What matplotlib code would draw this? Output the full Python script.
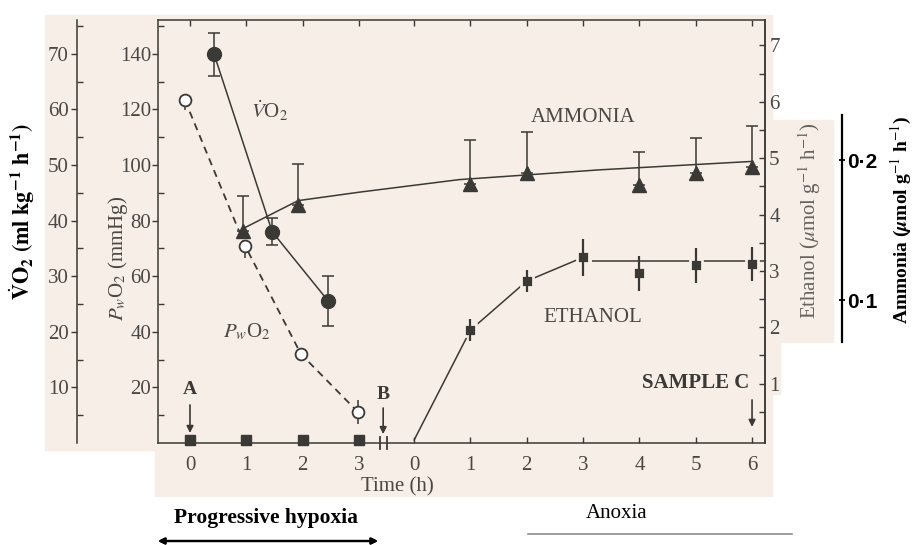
import numpy as np
import matplotlib.pyplot as plt
from matplotlib.patches import Rectangle
from matplotlib.lines import Line2D

plt.rcParams['font.family'] = ['Liberation Serif', 'DejaVu Serif']
plt.rcParams['mathtext.fontset'] = 'stix'

W, H = 915, 545
BG = '#f6eee7'
INK = '#3b3936'
TXT = '#4a4744'

ANOX_OFFSET = 3.98  # anoxia time 0 on the shared x scale

# x ticks: progressive hypoxia (h) then anoxia (h)
hyp_ticks = [0, 1, 2, 3]
anox_ticks = [0, 1, 2, 3, 4, 5, 6]

# VO2 (ml kg-1 h-1), filled circles
vo2_t = [0.43, 1.46, 2.45]
vo2 = [69.9, 38.0, 25.6]
vo2_err = [3.9, 2.4, 4.5]

# PwO2 (mmHg), open circles
pwo2_t = [-0.09, 0.98, 1.97, 2.98]
pwo2 = [123.4, 70.9, 32.0, 11.2]
pwo2_err_lo = [3.6, 4.3, 0.0, 4.3]
pwo2_err_hi = [0.0, 0.0, 0.0, 4.3]

# ammonia (umol g-1 h-1), triangles
amm_hyp_t = [0.94, 1.92]
amm_hyp = [0.149, 0.168]
amm_hyp_err = [0.025, 0.029]
amm_anox_t = [1, 2, 4, 5, 6]
amm_anox = [0.183, 0.191, 0.182, 0.191, 0.195]
amm_anox_err = [0.031, 0.029, 0.024, 0.025, 0.029]
# the curve drawn through the ammonia points
amm_fit_hyp_t = [0.94, 1.92, 3.0]
amm_fit_hyp = [0.151, 0.171, 0.177]
amm_fit_anox_t = [0.8, 3.3, 6.0]
amm_fit_anox = [0.186, 0.193, 0.199]

# ethanol (umol g-1 h-1), squares
eth_hyp_t = [0, 1, 2, 3]
eth_hyp = [0, 0, 0, 0]
eth_anox_t = [1, 2, 3, 4, 5, 6]
eth_anox = [1.95, 2.82, 3.24, 2.96, 3.10, 3.12]
eth_err = [0.2, 0.2, 0.33, 0.31, 0.31, 0.30]
eth_line_t = [0, 1, 2, 3]
eth_line = [0, 1.95, 2.82, 3.24]
eth_plateau = 3.17


def fx(px):
    return px / W


def fy(py):
    return 1 - py / H


def anox(t):
    return np.asarray(t, dtype=float) + ANOX_OFFSET


fig = plt.figure(figsize=(W / 100, H / 100), dpi=100)
fig.patch.set_facecolor('white')

# beige paper behind the scanned panels
for x0, y0, x1, y1 in [(155, 15, 772, 496), (45, 15, 158, 450),
                       (765, 120, 833, 342), (765, 342, 780, 394)]:
    fig.patches.append(Rectangle((fx(x0), fy(y1)), (x1 - x0) / W, (y1 - y0) / H,
                                 transform=fig.transFigure, color=BG, zorder=-5))

ax = fig.add_axes([fx(158), fy(443), (765 - 158) / W, (443 - 20) / H])
ax.set_facecolor('none')
ax.set_xlim(-0.568, 10.21)
ax.set_ylim(0, 152.2)
for s in ax.spines.values():
    s.set_color(INK)
    s.set_linewidth(1.1)

ax_v = ax.twinx()
ax_e = ax.twinx()
ax_a = ax.twinx()

# x axis
xt = list(hyp_ticks) + list(anox(anox_ticks))
xl = [str(t) for t in hyp_ticks] + [str(t) for t in anox_ticks]
ax.set_xticks(xt)
ax.set_xticklabels(xl)
ax.tick_params(axis='x', which='major', direction='in', top=True, bottom=True,
               length=4, width=1, color=INK, labelsize=15, labelcolor=TXT, pad=9)
ax.set_xlabel('Time (h)', fontsize=15, color=TXT, labelpad=0)
ax.xaxis.set_label_coords((397 - 158) / 607, -(477 - 443) / 423)

# PwO2 axis (left spine of the main panel)
ax.set_yticks(np.arange(20, 141, 20))
ax.set_yticks(np.arange(10, 151, 20), minor=True)
ax.yaxis.tick_left()
ax.tick_params(axis='y', which='major', direction='out', length=4, width=1,
               color=INK, labelsize=15, labelcolor=TXT, pad=1)
ax.tick_params(axis='y', which='minor', direction='in', length=4, width=1, color=INK)

# VO2 axis, detached to the left
ax_v.set_ylim(0, 76.1)
for k in ('right', 'top', 'bottom'):
    ax_v.spines[k].set_visible(False)
ax_v.spines['left'].set_position(('axes', (77 - 158) / 607))
ax_v.spines['left'].set_color(INK)
ax_v.spines['left'].set_linewidth(1.1)
ax_v.yaxis.tick_left()
ax_v.set_yticks(np.arange(10, 71, 10))
ax_v.set_yticks(np.arange(5, 76, 10), minor=True)
ax_v.tick_params(axis='y', which='major', direction='out', length=4, width=1,
                 color=INK, labelsize=15, labelcolor=TXT, pad=2)
ax_v.tick_params(axis='y', which='minor', direction='in', length=4, width=1, color=INK)

# ethanol axis, right spine
ax_e.set_ylim(-0.053, 7.45)
for k in ('left', 'top', 'bottom'):
    ax_e.spines[k].set_visible(False)
ax_e.spines['right'].set_color(INK)
ax_e.spines['right'].set_linewidth(1.1)
ax_e.set_yticks(np.arange(1, 8))
ax_e.set_yticks(np.arange(0.5, 7.0, 1.0), minor=True)
ax_e.tick_params(axis='y', which='both', direction='in', length=4, width=1,
                 color=INK, labelsize=15, labelcolor=TXT, pad=3)

# ammonia axis, pasted on further right
ax_a.set_ylim(-0.0021, 0.3)
for k in ('left', 'top', 'bottom'):
    ax_a.spines[k].set_visible(False)
ax_a.spines['right'].set_position(('axes', (842 - 158) / 607))
ax_a.spines['right'].set_bounds(0.07, 0.232)
ax_a.spines['right'].set_color('black')
ax_a.spines['right'].set_linewidth(1.6)
ax_a.set_yticks([0.1, 0.2])
ax_a.set_yticklabels(['0\u00b71', '0\u00b72'], family='Liberation Sans',
                     fontweight='bold')
ax_a.tick_params(axis='y', direction='inout', length=5, width=1.3, color='black',
                 labelsize=15, labelcolor='black', pad=1)

# PwO2: dashed line with open circles
ax.errorbar(pwo2_t, pwo2, yerr=[pwo2_err_lo, pwo2_err_hi], fmt='none',
            ecolor=INK, elinewidth=1.1, zorder=3)
ax.plot(pwo2_t, pwo2, color=INK, lw=1.3, ls=(0, (4, 3)), zorder=2)
ax.plot(pwo2_t, pwo2, 'o', ms=8.5, mfc='white', mec=INK, mew=1.3, zorder=4)

# VO2: filled circles
ax_v.plot(vo2_t, vo2, color=INK, lw=1.1, zorder=2)
ax_v.errorbar(vo2_t, vo2, yerr=vo2_err, fmt='o', ms=10, mfc=INK, mec=INK,
              ecolor=INK, elinewidth=1.1, capsize=4.5, capthick=1.1, zorder=4)

# ammonia: triangles with upper bars
amm_t = list(amm_hyp_t) + list(anox(amm_anox_t))
amm_v = list(amm_hyp) + list(amm_anox)
amm_e = list(amm_hyp_err) + list(amm_anox_err)
fit_t = list(amm_fit_hyp_t) + list(anox(amm_fit_anox_t))
fit_v = list(amm_fit_hyp) + list(amm_fit_anox)
ax_a.plot(fit_t, fit_v, color=INK, lw=1.1, zorder=2)
ax_a.errorbar(amm_t, amm_v, yerr=[np.zeros(len(amm_e)), amm_e], fmt='^', ms=10,
              mfc=INK, mec=INK, ecolor=INK, elinewidth=1.1, capsize=4,
              capthick=1.1, zorder=4)

# ethanol: squares, line broken at each marker
ax_e.plot(anox(eth_line_t), eth_line, color=INK, lw=1.1, zorder=2)
ax_e.hlines(eth_plateau, anox(3) + 0.15, 10.21, color=INK, lw=1.1, zorder=2)
ax_e.errorbar(anox(eth_anox_t), eth_anox, yerr=eth_err, fmt='none', ecolor=INK,
              elinewidth=1.6, zorder=5)
ax_e.plot(anox(eth_anox_t), eth_anox, 's', ms=9, mfc=INK, mec=BG, mew=2.0, zorder=4)
ax_e.plot(eth_hyp_t, eth_hyp, 's', ms=6.5, mfc=INK, mec=INK, zorder=4, clip_on=False)

# break on the time axis
for xb in (3.375, 3.50):
    ax.plot([xb, xb], [-2.2, 2.2], color=INK, lw=1.3, clip_on=False, zorder=6)

# labels inside the panel
ax.text(1.42, 119.5, r'$\dot{V}$O$_2$', fontsize=15, color=TXT, ha='center', va='center')
ax.text(6.98, 117, 'AMMONIA', fontsize=15, color=TXT, ha='center', va='center')
ax.text(7.16, 45, 'ETHANOL', fontsize=15, color=TXT, ha='center', va='center')
ax.text(1.01, 40, r'$P_w$O$_2$', fontsize=15, color=TXT, ha='center', va='center')

arrow = dict(arrowstyle='-|>', color=INK, lw=1.2, mutation_scale=10, shrinkA=0, shrinkB=0)
ax.annotate('', xy=(0, 3.6), xytext=(0, 13.7), arrowprops=arrow)
ax.text(0, 19.2, 'A', fontsize=14, fontweight='bold', color=INK, ha='center', va='center')
ax.annotate('', xy=(3.43, 3.2), xytext=(3.43, 12.6), arrowprops=arrow)
ax.text(3.43, 17.3, 'B', fontsize=14, fontweight='bold', color=INK, ha='center', va='center')
ax.annotate('', xy=(anox(6), 5.8), xytext=(anox(6), 15.5), arrowprops=arrow)
ax.text(8.97, 21.6, 'SAMPLE C', fontsize=15, fontweight='bold', color=INK,
        ha='center', va='center')

# axis titles
fig.text(fx(22), fy(212), r'$\dot{\mathbf{V}}\mathbf{O_2\ (ml\ kg^{-1}\ h^{-1})}$',
         rotation=90, fontsize=16, color='black', ha='center', va='center')
fig.text(fx(118), fy(258), r'$P_w$O$_2$ (mmHg)', rotation=90, fontsize=15,
         color=TXT, ha='center', va='center')
fig.text(fx(810), fy(221), r'Ethanol ($\mu$mol g$^{-1}$ h$^{-1}$)', rotation=90,
         fontsize=15, color='#66625e', ha='center', va='center')
fig.text(fx(901), fy(220), r'Ammonia ($\boldsymbol{\mu}$mol g$^{-1}$ h$^{-1}$)',
         rotation=90, fontsize=14, fontweight='bold', color='black',
         ha='center', va='center')

# phase captions below
fig.text(fx(266), fy(518), 'Progressive hypoxia', fontsize=15.5, fontweight='bold',
         color='black', ha='center', va='center')
fig.add_artist(plt.annotate('', xy=(fx(158), fy(541)), xytext=(fx(378), fy(541)),
                            xycoords='figure fraction', textcoords='figure fraction',
                            arrowprops=dict(arrowstyle='<|-|>', color='black', lw=1.6,
                                            mutation_scale=9, shrinkA=0, shrinkB=0)))
fig.text(fx(617), fy(514), 'Anoxia', fontsize=15, color='black', ha='center', va='center')
fig.add_artist(Line2D([fx(528), fx(792)], [fy(534), fy(534)], color='#8c8c8c', lw=1.2))

fig.savefig('out.png', dpi=100, facecolor='white')
